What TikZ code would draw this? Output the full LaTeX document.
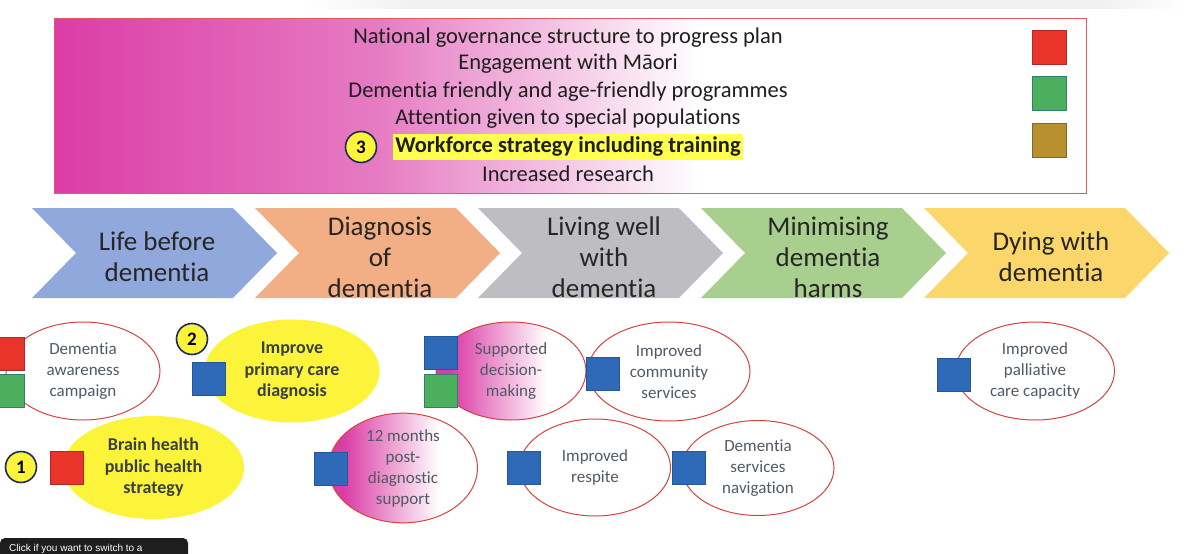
\documentclass[tikz,border=0pt]{standalone}
\usepackage{fontspec}
\setmainfont{Carlito}[Ligatures=NoCommon]
\newfontfamily\arialf{Liberation Sans}
\usetikzlibrary{shapes.geometric}
\definecolor{mag}{HTML}{DB3DA6}
\definecolor{boxred}{HTML}{E05A60}
\definecolor{sqred}{HTML}{E8342A}
\definecolor{sqredb}{HTML}{B02828}
\definecolor{sqgreen}{HTML}{4CAF5E}
\definecolor{sqgreenb}{HTML}{2F7F6F}
\definecolor{sqolive}{HTML}{B8902E}
\definecolor{sqoliveb}{HTML}{7A6A3A}
\definecolor{sqblue}{HTML}{2E6AB8}
\definecolor{sqblueb}{HTML}{24569A}
\definecolor{chblue}{HTML}{90A8DB}
\definecolor{chsalmon}{HTML}{F2AE84}
\definecolor{chgray}{HTML}{BEBEC2}
\definecolor{chgreen}{HTML}{A9CF8E}
\definecolor{chyellow}{HTML}{FAD66B}
\definecolor{ylw}{HTML}{FBF43A}
\definecolor{hlyellow}{HTML}{FFFF4D}
\definecolor{ellred}{HTML}{D94040}
\definecolor{elltext}{HTML}{505A66}
\definecolor{elldark}{HTML}{3A3F46}
\definecolor{navy}{HTML}{1F2A5A}
\definecolor{tip}{HTML}{1E1E1E}
\pgfdeclarehorizontalshading{boxshade}{100bp}{color(0bp)=(mag); color(25bp)=(mag); color(50bp)=(mag!68!white); color(75bp)=(white); color(100bp)=(white)}
\pgfdeclarehorizontalshading{ellshade}{100bp}{color(0bp)=(mag); color(30bp)=(mag); color(62bp)=(white); color(100bp)=(white)}
\pgfdeclarehorizontalshading{shadowshade}{100bp}{color(0bp)=(white); color(25bp)=(white); color(32bp)=(black!6); color(70bp)=(black!6); color(75bp)=(white); color(100bp)=(white)}
\tikzset{
  sqbox/.style 2 args={minimum size=33pt, inner sep=0pt, draw=#2, fill=#1, line width=0.8pt},
  ell/.style={ellipse, draw=ellred, line width=1pt, fill=white, inner sep=0pt, align=center, text=elltext, font=\fontsize{17}{21}\selectfont},
  gell/.style={ell, shading=ellshade},
  yell/.style={ellipse, fill=ylw, inner sep=0pt, align=center, text=elldark, font=\bfseries\fontsize{18}{21.5}\selectfont},
  num/.style={circle, draw=navy, fill=ylw, line width=1.6pt, minimum size=31pt, inner sep=0pt, font=\bfseries\fontsize{19}{19}\selectfont},
  chtext/.style={align=center, text=black!85, font=\fontsize{27}{31}\selectfont},
  toptext/.style={text=black!88, font=\fontsize{22.5}{27}\selectfont, inner sep=0pt}
}
\begin{document}
\begin{tikzpicture}[x=1pt,y=-1pt]
\useasboundingbox (0,0) rectangle (1200,554);
% faint shadow at top
\shade[shading=shadowshade] (300,0) rectangle (1185,8);
\shade[top color=white, bottom color=white, opacity=0] (300,8) rectangle (1185,12);
% top box
\fill[white] (54,18) rectangle (1086,193);
\shade[shading=boxshade] (54,18) rectangle (700,193);
\draw[boxred, line width=1pt] (54,18) rectangle (1086,193);
\node[toptext] (t1) at (568,38) {National governance structure to progress plan};
\node[toptext] (t2) at (568,64) {Engagement with Māori};
\node[toptext] (t3) at (568,92) {Dementia friendly and age-friendly programmes};
\node[toptext] (t4) at (568,119) {Attention given to special populations};
\node[toptext, fill=hlyellow, inner xsep=2pt, inner ysep=3pt, font=\bfseries\fontsize{22.5}{27}\selectfont] (t5) at (568,147) {Workforce strategy including training};
\node[toptext] (t6) at (568,174) {Increased research};
\node[num] (n3) at (361,147) {3};
\node[sqbox={sqred}{sqredb}, minimum size=34pt] (lr) at (1049.5,47) {};
\node[sqbox={sqgreen}{sqgreenb}, minimum size=34pt] (lg) at (1049.5,93.5) {};
\node[sqbox={sqolive}{sqoliveb}, minimum size=34pt] (lo) at (1049.5,140) {};
% chevrons
\foreach \x/\c in {32/chblue, 255/chsalmon, 478/chgray, 701/chgreen, 924/chyellow}{
  \fill[\c] (\x,208) -- ({\x+201},208) -- ({\x+245},253) -- ({\x+201},298) -- (\x,298) -- ({\x+44},253) -- cycle;
}
\node[chtext] (c1) at (157,257) {Life before\\dementia};
\node[chtext] (c2) at (380,257) {Diagnosis\\of\\dementia};
\node[chtext] (c3) at (604,257) {Living well\\with\\dementia};
\node[chtext] (c4) at (828,257) {Minimising\\dementia\\harms};
\node[chtext] (c5) at (1051,257) {Dying with\\dementia};
% ellipses
\node[ell, minimum width=154pt, minimum height=98pt] (e1) at (83,371) {Dementia\\awareness\\campaign};
\node[yell, minimum width=175pt, minimum height=103pt] (e2) at (292,371) {Improve\\primary care\\diagnosis};
\node[yell, minimum width=181pt, minimum height=103pt] (e3) at (153.5,467.5) {Brain health\\public health\\strategy};
\node[gell, minimum width=149pt, minimum height=96pt] (e4) at (403,468) {12 months\\post-\\diagnostic\\support};
\node[gell, minimum width=150pt, minimum height=98pt] (e5) at (511,371) {Supported\\decision-\\making};
\node[ell, minimum width=162pt, minimum height=99pt] (e6) at (669,371.5) {Improved\\community\\services};
\node[ell, minimum width=151pt, minimum height=97pt] (e7) at (595,467.5) {Improved\\respite};
\node[ell, minimum width=152pt, minimum height=95pt] (e8) at (758,468) {Dementia\\services\\navigation};
\node[ell, minimum width=159pt, minimum height=98pt] (e9) at (1035,371) {Improved\\palliative\\care capacity};
% squares
\node[sqbox={sqred}{sqredb}] (s1r) at (7.5,353.5) {};
\node[sqbox={sqgreen}{sqgreenb}] (s1g) at (7.5,390.5) {};
\node[sqbox={sqblue}{sqblueb}] (s2) at (208.5,378.5) {};
\node[sqbox={sqred}{sqredb}] (s3) at (67,467.5) {};
\node[sqbox={sqblue}{sqblueb}] (s4) at (330.5,468.5) {};
\node[sqbox={sqblue}{sqblueb}] (s5b) at (441,353) {};
\node[sqbox={sqgreen}{sqgreenb}] (s5g) at (441,391) {};
\node[sqbox={sqblue}{sqblueb}] (s6) at (602.5,374) {};
\node[sqbox={sqblue}{sqblueb}] (s7) at (523.5,468) {};
\node[sqbox={sqblue}{sqblueb}] (s8) at (688.5,468) {};
\node[sqbox={sqblue}{sqblueb}] (s9) at (953.5,374.5) {};
% number circles
\node[num] (n1) at (21,467) {1};
\node[num] (n2) at (192,339) {2};
% tooltip
\fill[tip, rounded corners=5pt] (0,538) rectangle (188,575);
\node[anchor=base west, text=white, inner sep=0pt, font=\arialf\fontsize{10}{12}\selectfont] (tt) at (9,551.5) {Click if you want to switch to a};
\end{tikzpicture}
\end{document}
